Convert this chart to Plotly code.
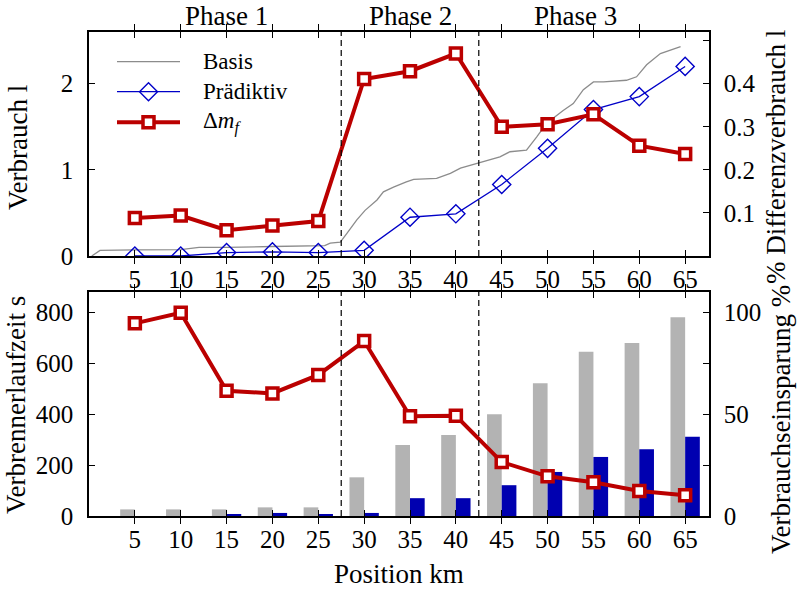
import plotly.graph_objects as go

# Measurement positions along the route (km)
positions = [5, 10, 15, 20, 25, 30, 35, 40, 45, 50, 55, 60, 65]

# Cumulative consumption of the predictive strategy (l)
praediktiv = [0.0, 0.0, 0.04, 0.047, 0.04, 0.066, 0.45, 0.49, 0.83, 1.25, 1.70, 1.85, 2.20]
# Consumption difference Delta m_f (l, right axis)
delta_mf = [0.088, 0.094, 0.060, 0.071, 0.081, 0.411, 0.429, 0.470, 0.300, 0.306, 0.329, 0.256, 0.237]

# Cumulative consumption of the baseline strategy (l), sampled densely
basis_km = [0.3, 1.2, 5, 10, 12, 15, 20, 25.7, 26.3, 27.4, 28.1, 29.2, 30.1, 31.4, 32.1, 33.2,
            34.6, 35.4, 37.9, 39.4, 40.5, 42.6, 44.8, 45.9, 47.7, 48.8, 49.9, 51.7, 52.8, 53.9,
            55.0, 56.1, 58.6, 59.7, 60.8, 62.3, 63.4, 64.5]
basis_l = [0.0, 0.065, 0.07, 0.075, 0.10, 0.10, 0.11, 0.12, 0.15, 0.16, 0.26, 0.42, 0.53, 0.65,
           0.745, 0.80, 0.86, 0.89, 0.90, 0.96, 1.02, 1.08, 1.15, 1.21, 1.23, 1.38, 1.54, 1.69,
           1.77, 1.93, 2.02, 2.02, 2.04, 2.08, 2.22, 2.35, 2.39, 2.43]

# Engine running time (s)
laufzeit_basis = [26, 26, 26, 34, 34, 152, 279, 318, 400, 522, 645, 680, 781]
laufzeit_praediktiv = [0, 0, 6, 12, 6, 12, 70, 70, 121, 173, 232, 262, 311]
# Consumption saving (%)
einsparung = [94.6, 99.8, 61.5, 60.2, 69.3, 85.9, 49.0, 49.2, 26.5, 19.5, 16.6, 12.3, 10.2]

phase_grenzen = [27.5, 42.5]
phasen = ["Phase 1", "Phase 2", "Phase 3"]
phasen_pos = [15, 35, 53]

FONT = "Liberation Serif, DejaVu Serif, serif"
RED = "#bb0000"
BLUE = "#0000c8"
GRAY_LINE = "#8c8c8c"
GRAY_BAR = "#b3b3b3"
BLUE_BAR = "#0000b0"

W, H = 798, 589
ML, MR, MT, MB = 89, 89, 32, 73
PW, PH = W - ML - MR, H - MT - MB


def fx(p):
    return (p - ML) / PW


def fy(p):
    return (H - MB - p) / PH


fig = go.Figure()

# --- upper panel ---
fig.add_trace(go.Scatter(x=basis_km, y=basis_l, mode="lines",
                         line=dict(color=GRAY_LINE, width=1.3),
                         xaxis="x", yaxis="y", showlegend=False))
fig.add_trace(go.Scatter(x=positions, y=praediktiv, mode="lines+markers",
                         line=dict(color=BLUE, width=1.3),
                         marker=dict(symbol="diamond-open", size=14, color=BLUE,
                                     line=dict(width=1.4, color=BLUE)),
                         xaxis="x", yaxis="y", showlegend=False))
fig.add_trace(go.Scatter(x=positions, y=delta_mf, mode="lines+markers",
                         line=dict(color=RED, width=4),
                         marker=dict(symbol="square", size=11, color="white",
                                     line=dict(width=3.5, color=RED)),
                         xaxis="x", yaxis="y2", showlegend=False))

# --- lower panel ---
fig.add_trace(go.Bar(x=positions, y=laufzeit_basis, width=1.6, offset=-1.6,
                     marker=dict(color=GRAY_BAR, line=dict(width=0)),
                     xaxis="x2", yaxis="y3", showlegend=False))
fig.add_trace(go.Bar(x=positions, y=laufzeit_praediktiv, width=1.6, offset=0,
                     marker=dict(color=BLUE_BAR, line=dict(width=0)),
                     xaxis="x2", yaxis="y3", showlegend=False))
fig.add_trace(go.Scatter(x=positions, y=einsparung, mode="lines+markers",
                         line=dict(color=RED, width=4),
                         marker=dict(symbol="square", size=11, color="white",
                                     line=dict(width=3.5, color=RED)),
                         xaxis="x2", yaxis="y4", showlegend=False))

tickfont = dict(family=FONT, size=25, color="black")
common = dict(showline=True, linecolor="black", linewidth=1.6, ticks="inside",
              ticklen=6, tickwidth=1.2, tickcolor="black", showgrid=False,
              zeroline=False, tickfont=tickfont)
minor_common = dict(tickmode="array", ticks="inside", ticklen=6, tickwidth=1.2,
                    tickcolor="black", showgrid=False)

top_dom = [fy(256), 1.0]
bot_dom = [0.0, fy(292)]

fig.update_layout(
    width=W, height=H,
    margin=dict(l=ML, r=MR, t=MT, b=MB),
    paper_bgcolor="white", plot_bgcolor="white",
    barmode="overlay",
    font=dict(family=FONT, size=25, color="black"),
    xaxis=dict(domain=[0, 1], anchor="y", range=[0, 67.6], tickvals=positions,
               mirror="allticks", ticklabelstandoff=0, **common),
    yaxis=dict(domain=top_dom, anchor="x", range=[0, 2.6], tickvals=[0, 1, 2],
               mirror=True, ticklabelstandoff=9, **common),
    yaxis2=dict(overlaying="y", side="right", anchor="x", range=[0, 0.52],
                tickvals=[0.1, 0.2, 0.3, 0.4],
                minor=dict(tickvals=[0.5], **minor_common),
                ticklabelstandoff=8, **common),
    xaxis2=dict(domain=[0, 1], anchor="y3", range=[0, 67.6], tickvals=positions,
                mirror="allticks", ticklabelstandoff=0, **common),
    yaxis3=dict(domain=bot_dom, anchor="x2", range=[0, 880],
                tickvals=[0, 200, 400, 600, 800], mirror=True,
                ticklabelstandoff=9, **common),
    yaxis4=dict(overlaying="y3", side="right", anchor="x2", range=[0, 110],
                tickvals=[0, 50, 100],
                minor=dict(tickvals=[25, 75], **minor_common),
                ticklabelstandoff=8, **common),
)

shapes = []
annotations = []

# Phase boundaries
for xa, ya in (("x", "y domain"), ("x2", "y3 domain")):
    for g in phase_grenzen:
        shapes.append(dict(type="line", xref=xa, yref=ya, x0=g, x1=g, y0=0, y1=1,
                           line=dict(color="black", width=1.2, dash="6px,4px")))

# Phase titles
for name, pos in zip(phasen, phasen_pos):
    annotations.append(dict(text=name, x=pos, xref="x", y=fy(16), yref="paper",
                            showarrow=False, xanchor="center", yanchor="middle",
                            font=dict(family=FONT, size=27)))


# Axis titles
def title(text, xp, yp, angle=-90):
    annotations.append(dict(text=text, x=fx(xp), y=fy(yp), xref="paper", yref="paper",
                            showarrow=False, textangle=angle, xanchor="center",
                            yanchor="middle", font=dict(family=FONT, size=27)))


title("Verbrauch l", 18, 148)
title("Verbrennerlaufzeit s", 16, 405)
title("% Differenzverbrauch l", 776, 157)
title("Verbrauchseinsparung %", 781, 420)
title("Position km", 399, 574, angle=0)

# Legend keys
lx0, lx1, lxm = 117, 180, 148.5
rows = [61.7, 91.7, 122.3]
labels = ["Basis", "Prädiktiv", "Δ<i>m</i><sub><i>f</i></sub>"]

shapes.append(dict(type="line", xref="paper", yref="paper", x0=fx(lx0), x1=fx(lx1),
                   y0=fy(rows[0]), y1=fy(rows[0]), line=dict(color=GRAY_LINE, width=1.3)))
shapes.append(dict(type="line", xref="paper", yref="paper", x0=fx(lx0), x1=fx(lx1),
                   y0=fy(rows[1]), y1=fy(rows[1]), line=dict(color=BLUE, width=1.3)))
d = 9
path = "M {},{} L {},{} L {},{} L {},{} Z".format(
    fx(lxm - d), fy(rows[1]), fx(lxm), fy(rows[1] - d),
    fx(lxm + d), fy(rows[1]), fx(lxm), fy(rows[1] + d))
shapes.append(dict(type="path", xref="paper", yref="paper", path=path,
                   line=dict(color=BLUE, width=1.4), fillcolor="rgba(0,0,0,0)"))
shapes.append(dict(type="line", xref="paper", yref="paper", x0=fx(lx0), x1=fx(lx1),
                   y0=fy(rows[2]), y1=fy(rows[2]), line=dict(color=RED, width=4)))
s = 5.5
shapes.append(dict(type="rect", xref="paper", yref="paper",
                   x0=fx(lxm - s), x1=fx(lxm + s), y0=fy(rows[2] + s), y1=fy(rows[2] - s),
                   line=dict(color=RED, width=3.5), fillcolor="white"))

for lab, r in zip(labels, rows):
    annotations.append(dict(text=lab, x=fx(201), y=fy(r), xref="paper", yref="paper",
                            showarrow=False, xanchor="left", yanchor="middle",
                            font=dict(family=FONT, size=23)))

fig.update_layout(shapes=shapes, annotations=annotations)

fig.write_html("out.html")
